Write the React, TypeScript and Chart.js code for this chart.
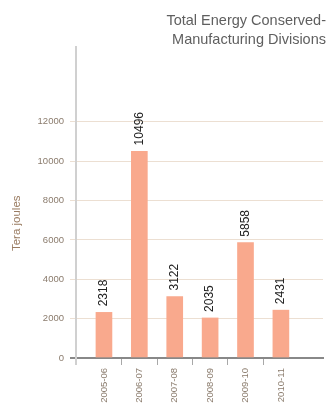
import React, { useEffect, useRef } from "react";
import { Chart, registerables } from "chart.js";

Chart.register(...registerables);

const categories = ["2005-06", "2006-07", "2007-08", "2008-09", "2009-10", "2010-11"];
const energyValues = [2318, 10496, 3122, 2035, 5858, 2431];
const yTickValues = [0, 2000, 4000, 6000, 8000, 10000, 12000];
const titleLines = ["Total Energy Conserved-", "Manufacturing Divisions"];
const yAxisTitle = "Tera joules";

const FONT = "'Liberation Sans', Arial, sans-serif";
const X_MIN = -0.79;
const X_MAX = 6.19;

const valueLabelPlugin = {
  id: "valueLabels",
  afterDatasetsDraw(chart: any) {
    const ctx = chart.ctx;
    const meta = chart.getDatasetMeta(0);
    ctx.save();
    ctx.font = `12px ${FONT}`;
    ctx.fillStyle = "#222222";
    ctx.textAlign = "left";
    ctx.textBaseline = "middle";
    meta.data.forEach((bar: any, i: number) => {
      ctx.save();
      ctx.translate(bar.x, bar.y - 6);
      ctx.rotate(-Math.PI / 2);
      ctx.fillText(String(energyValues[i]), 0, 0);
      ctx.restore();
    });
    ctx.restore();
  },
};

export default function App() {
  const canvasRef = useRef<HTMLCanvasElement | null>(null);

  useEffect(() => {
    if (!canvasRef.current) return;
    const chart = new Chart(canvasRef.current, {
      type: "bar",
      data: {
        datasets: [
          {
            data: energyValues.map((v, i) => ({ x: i, y: v })),
            backgroundColor: "#f9a98d",
            borderWidth: 0,
            barThickness: 16,
          },
        ],
      },
      options: {
        animation: false,
        responsive: true,
        maintainAspectRatio: false,
        layout: { padding: { left: 0, right: 1, top: 0, bottom: 0 } },
        plugins: {
          legend: { display: false },
          tooltip: { enabled: false },
          title: {
            display: true,
            text: titleLines,
            align: "end",
            color: "#5f5f5f",
            font: { family: FONT, size: 14.5, weight: "normal", lineHeight: 1.31 },
            padding: { top: 11.5, bottom: -2.5 },
          },
        },
        scales: {
          x: {
            type: "linear",
            position: "bottom",
            min: X_MIN,
            max: X_MAX,
            offset: false,
            bounds: "data",
            weight: 0,
            afterBuildTicks: (scale: any) => {
              scale.ticks = [X_MIN, ...categories.slice(1).map((_, i) => i + 0.5)].map((v) => ({ value: v }));
            },
            afterFit: (scale: any) => {
              scale.paddingRight = 4;
            },
            ticks: { display: false },
            grid: {
              offset: false,
              drawOnChartArea: false,
              drawTicks: true,
              tickLength: 7,
              color: (c: any) => (c.index === 0 ? "#d0d0d0" : "#a8a8a8"),
              lineWidth: (c: any) => (c.index === 0 ? 2 : 1),
            },
            border: { display: true, color: "#888888", width: 2 },
          },
          xl: {
            type: "linear",
            position: "bottom",
            min: X_MIN,
            max: X_MAX,
            offset: false,
            bounds: "data",
            weight: 1,
            afterBuildTicks: (scale: any) => {
              scale.ticks = categories.map((_, i) => ({ value: i }));
            },
            afterFit: (scale: any) => {
              scale.height = 38;
            },
            ticks: {
              autoSkip: false,
              minRotation: 90,
              maxRotation: 90,
              padding: 3,
              color: "#8a7b6c",
              font: { family: FONT, size: 9.5 },
              callback: (v: any) => categories[Math.round(Number(v))] ?? "",
            },
            grid: { display: false, drawTicks: false, offset: false },
            border: { display: false },
          },
          y: {
            type: "linear",
            min: 0,
            max: 15800,
            afterBuildTicks: (scale: any) => {
              scale.ticks = yTickValues.map((v) => ({ value: v }));
            },
            afterFit: (scale: any) => {
              scale.width = 76;
            },
            ticks: {
              padding: 6,
              color: "#8a7b6c",
              font: { family: FONT, size: 9.5 },
              callback: (v: any) => String(v),
            },
            grid: {
              tickLength: 6,
              color: (c: any) => (c.tick && c.tick.value === 0 ? "#888888" : "#ecdfd2"),
              lineWidth: (c: any) => (c.tick && c.tick.value === 0 ? 2 : 1),
            },
            border: { display: true, color: "#d0d0d0", width: 2 },
            title: {
              display: true,
              text: yAxisTitle + "\u00a0".repeat(13),
              color: "#9a7c62",
              font: { family: FONT, size: 11.5 },
              padding: { top: 10, bottom: 8 },
            },
          },
        },
      },
      plugins: [valueLabelPlugin],
    } as any);
    return () => chart.destroy();
  }, []);

  return (
    <div style={{ position: "fixed", left: 0, top: 0, width: 327, height: 403, background: "#ffffff" }}>
      <canvas ref={canvasRef} />
    </div>
  );
}
